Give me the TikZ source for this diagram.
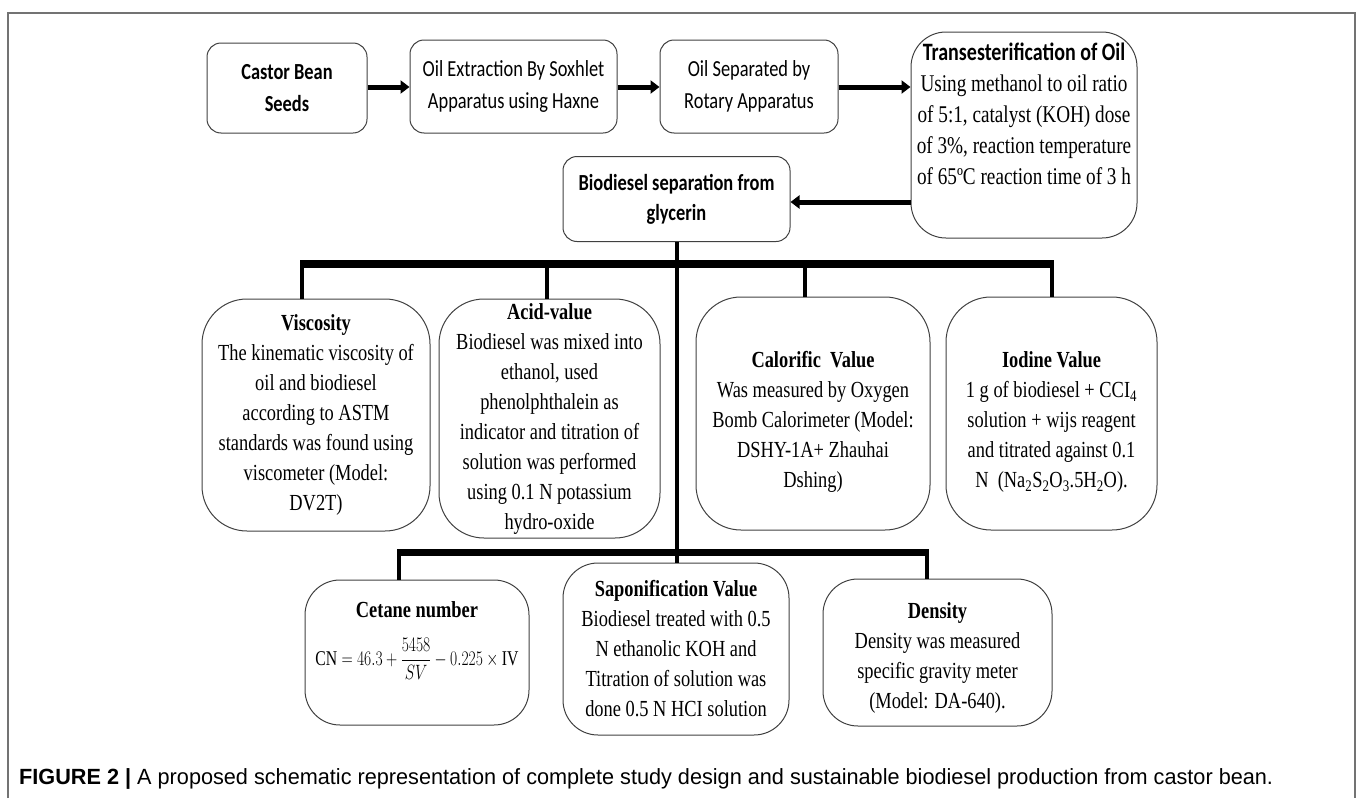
\documentclass[tikz,border=0pt]{standalone}
\usepackage{fontspec}
\usepackage{graphicx}
\usepackage{amsmath}
\setmainfont{Liberation Serif}
\newfontfamily\nserif[FakeStretch=0.8]{Liberation Serif}
\newfontfamily\calib[FakeStretch=0.8]{Carlito}
\newfontfamily\capsans[FakeStretch=0.985]{Liberation Sans}
\usetikzlibrary{arrows.meta}
\tikzset{
  frameline/.style={draw=black!55, line width=1.4pt},
  topbox/.style={draw=black!75, line width=1pt, rounded corners=14pt, align=center, inner sep=0pt,
     font=\calib\fontsize{23}{32}\selectfont},
  bigbox/.style={draw=black!75, line width=1pt, rounded corners=35pt, align=center, inner sep=0pt,
     font=\nserif\fontsize{24}{31}\selectfont},
  midbox/.style={draw=black!75, line width=1pt, rounded corners=45pt, align=center, inner sep=0pt,
     font=\nserif\fontsize{23}{30}\selectfont},
  lowbox/.style={draw=black!75, line width=1pt, rounded corners=35pt, align=center, inner sep=0pt,
     font=\nserif\fontsize{23}{30}\selectfont},
  flowarrow/.style={line width=5pt, -{Triangle[length=9pt,width=13pt]}},
  bus/.style={line width=8pt},
  lowbus/.style={line width=7pt},
  stem/.style={line width=3.5pt},
}
\begin{document}
\begin{tikzpicture}[x=1pt,y=-1pt]
\useasboundingbox (0,0) rectangle (1357,798);
\draw[frameline] (8,798) -- (8,13) -- (1355,13) -- (1355,798);

% top row
\node[topbox, minimum width=160pt, minimum height=90pt] (castor) at (287,88)
  {\bfseries Castor Bean\\\bfseries Seeds};
\node[topbox, minimum width=207pt, minimum height=93pt] (soxhlet) at (513.5,86.5)
  {Oil Extraction By Soxhlet\\Apparatus using Haxne};
\node[topbox, minimum width=178pt, minimum height=93pt] (rotary) at (749,86.5)
  {Oil Separated by\\Rotary Apparatus};
\node[bigbox, minimum width=226pt, minimum height=206pt] (trans) at (1024,135)
  {{\calib\bfseries\fontsize{25}{31}\selectfont Transesterification of Oil}\\
   Using methanol to oil ratio\\of 5:1, catalyst (KOH) dose\\of 3\%, reaction temperature\\of 65ºC reaction time of 3 h\\[12pt]};
\node[topbox, minimum width=227pt, minimum height=85pt, font=\calib\fontsize{23}{30}\selectfont] (sep) at (676.5,199)
  {\bfseries Biodiesel separation from\\\bfseries glycerin};

\draw[flowarrow] (castor.east |- 0,87) -- (soxhlet.west |- 0,87);
\draw[flowarrow] (soxhlet.east |- 0,87) -- (rotary.west |- 0,87);
\draw[flowarrow] (rotary.east |- 0,87) -- (trans.west |- 0,87);
\draw[flowarrow] (trans.west |- 0,202) -- (sep.east |- 0,202);

% middle row
\node[midbox, minimum width=228pt, minimum height=232pt] (visc) at (316,415)
  {\bfseries Viscosity\\The kinematic viscosity of\\oil and biodiesel\\according to ASTM\\standards was found using\\viscometer (Model:\\DV2T)};
\node[midbox, minimum width=221pt, minimum height=239pt] (acid) at (549.5,418.5)
  {\bfseries Acid-value\\Biodiesel was mixed into\\ethanol, used\\phenolphthalein as\\indicator and titration of\\solution was performed\\using 0.1 N potassium\\hydro-oxide};
\node[midbox, minimum width=234pt, minimum height=233pt] (calor) at (813,413.5)
  {\bfseries Calorific\ \ Value\\Was measured by Oxygen\\Bomb Calorimeter (Model:\\DSHY-1A+ Zhauhai\\Dshing)\\[-42pt]};
\node[midbox, minimum width=211pt, minimum height=233pt] (iodine) at (1051.5,413.5)
  {\bfseries Iodine Value\\1 g of biodiesel + CCI\textsubscript{4}\\solution + wijs reagent\\and titrated against 0.1\\N\ \ (Na\textsubscript{2}S\textsubscript{2}O\textsubscript{3}.5H\textsubscript{2}O).\\[-42pt]};

% lower row
\node[lowbox, minimum width=224pt, minimum height=145pt] (cetane) at (417,652.5)
  {\bfseries Cetane number\\[18pt]
   \scalebox{0.75}[1]{\fontsize{21}{26}\selectfont$\mathrm{CN}=46.3+\dfrac{5458}{SV}-0.225\times\mathrm{IV}$}\\[8pt]};
\node[lowbox, minimum width=226pt, minimum height=172pt] (sapon) at (676,649)
  {\bfseries Saponification Value\\Biodiesel treated with 0.5\\N ethanolic KOH and\\Titration of solution was\\done 0.5 N HCI solution};
\node[lowbox, minimum width=229pt, minimum height=147pt] (dens) at (937.5,652.5)
  {\bfseries Density\\Density was measured\\specific gravity meter\\(Model: DA-640).\\[-36pt]};

% bus lines
\coordinate (busL) at (302,264);
\coordinate (busA) at (547,264);
\coordinate (busC) at (805,264);
\coordinate (busR) at (1052,264);
\coordinate (mainx) at (677,264);
\coordinate (lowL) at (399,552);
\coordinate (lowM) at (677,552);
\coordinate (lowR) at (927,552);

\draw[bus] ([xshift=-1.75pt]busL) -- ([xshift=1.75pt]busR);
\draw[stem] (busL) -- (busL |- visc.north);
\draw[stem] (busA) -- (busA |- acid.north);
\draw[stem] (busC) -- (busC |- calor.north);
\draw[stem] (busR) -- (busR |- iodine.north);
\draw[stem] (mainx |- sep.south) -- (lowM);
\draw[lowbus] ([xshift=-1.75pt]lowL) -- ([xshift=1.75pt]lowR);
\draw[stem] (lowL) -- (lowL |- cetane.north);
\draw[stem] (lowM) -- (lowM |- sapon.north);
\draw[stem] (lowR) -- (lowR |- dens.north);

% caption
\node[anchor=west, inner sep=0pt, font=\capsans\fontsize{22}{24}\selectfont] (caption) at (19,779)
  {\textbf{FIGURE 2} {\bfseries|} A proposed schematic representation of complete study design and sustainable biodiesel production from castor bean.};
\end{tikzpicture}
\end{document}
